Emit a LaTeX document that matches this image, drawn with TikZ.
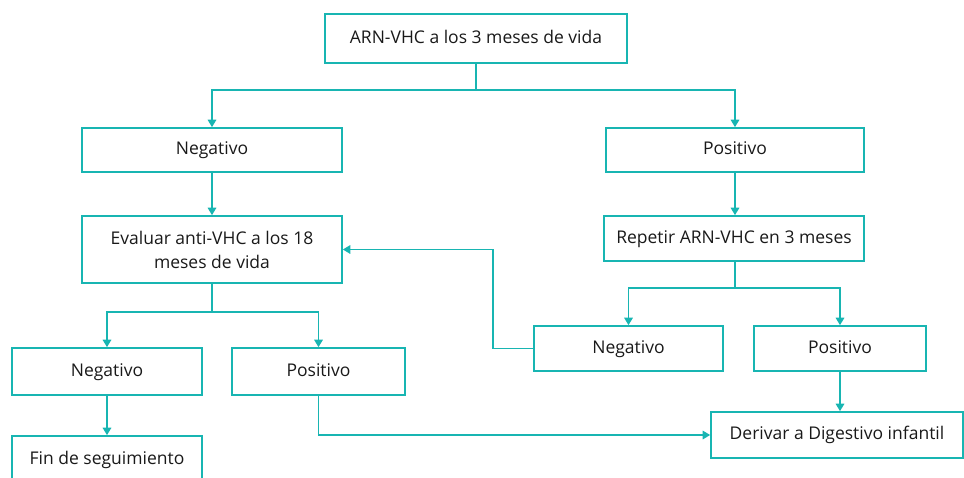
\documentclass[tikz,border=0pt]{standalone}
\usepackage{fontspec}
\setmainfont{Open Sans}
\usetikzlibrary{arrows.meta, positioning}
\definecolor{vhcteal}{RGB}{24,181,178}

\begin{document}
\begin{tikzpicture}[x=1pt,y=-1pt,line width=1.6pt,
        box/.style={draw=vhcteal, inner sep=2pt, align=center, text=black!90,
            text height=12.5pt, text depth=3.5pt,
            font=\fontsize{17.5}{24}\selectfont},
        link/.style={draw=vhcteal, -{Triangle[width=8.5pt,length=7.5pt]}}]
        \useasboundingbox (0,0) rectangle (964,477);

        \node[box, minimum width=302, minimum height=49]  (arn)     at (476,38.5)  {ARN-VHC a los 3 meses de vida};
        \node[box, minimum width=260, minimum height=44]  (neg_1)   at (212,150)   {Negativo};
        \node[box, minimum width=258, minimum height=44]  (pos_1)   at (735,150)   {Positivo};
        \node[box, minimum width=260, minimum height=67, text height=, text depth=]
                                                          (eval)    at (212,249.5) {Evaluar anti-VHC a los 18\\meses de vida};
        \node[box, minimum width=260, minimum height=45]  (rep)     at (734,238.5) {Repetir ARN-VHC en 3 meses};
        \node[box, minimum width=189, minimum height=45]  (neg_3)   at (628.5,348.5) {Negativo};
        \node[box, minimum width=172, minimum height=45]  (pos_3)   at (840,348.5) {Positivo};
        \node[box, minimum width=190, minimum height=47]  (neg_2)   at (107,371.5) {Negativo};
        \node[box, minimum width=173, minimum height=47]  (pos_2)   at (318.5,371.5) {Positivo};
        \node[box, minimum width=190, minimum height=47]  (fin)     at (107,459.5) {Fin de seguimiento};
        \node[box, minimum width=252, minimum height=46]  (derivar) at (837,435)   {Derivar a Digestivo infantil};

        \coordinate (split_1) at (476,90);
        \coordinate (split_2) at (212,312);
        \coordinate (split_3) at (735,288);
        \coordinate (back_1)  at (493,348.5);

        % branches
        \draw[draw=vhcteal] (arn) -- (split_1);
        \path[link] (split_1) -| (neg_1);
        \path[link] (split_1) -| (pos_1);
        \path[link] (neg_1) -- (eval);
        \path[link] (pos_1) -- (pos_1 |- rep.north);
        \draw[draw=vhcteal] (eval) -- (split_2);
        \path[link] (split_2) -| (neg_2);
        \path[link] (split_2) -| (pos_2);
        \draw[draw=vhcteal] (rep.south -| split_3) -- (split_3);
        \path[link] (split_3) -| (neg_3);
        \path[link] (split_3) -| (pos_3);
        \path[link] (neg_3.west) -- (back_1) |- (eval);
        \path[link] (neg_2) -- (fin);
        \path[link] (pos_3) -- (pos_3 |- derivar.north);
        \path[link] (pos_2) |- (derivar);
\end{tikzpicture}
\end{document}
